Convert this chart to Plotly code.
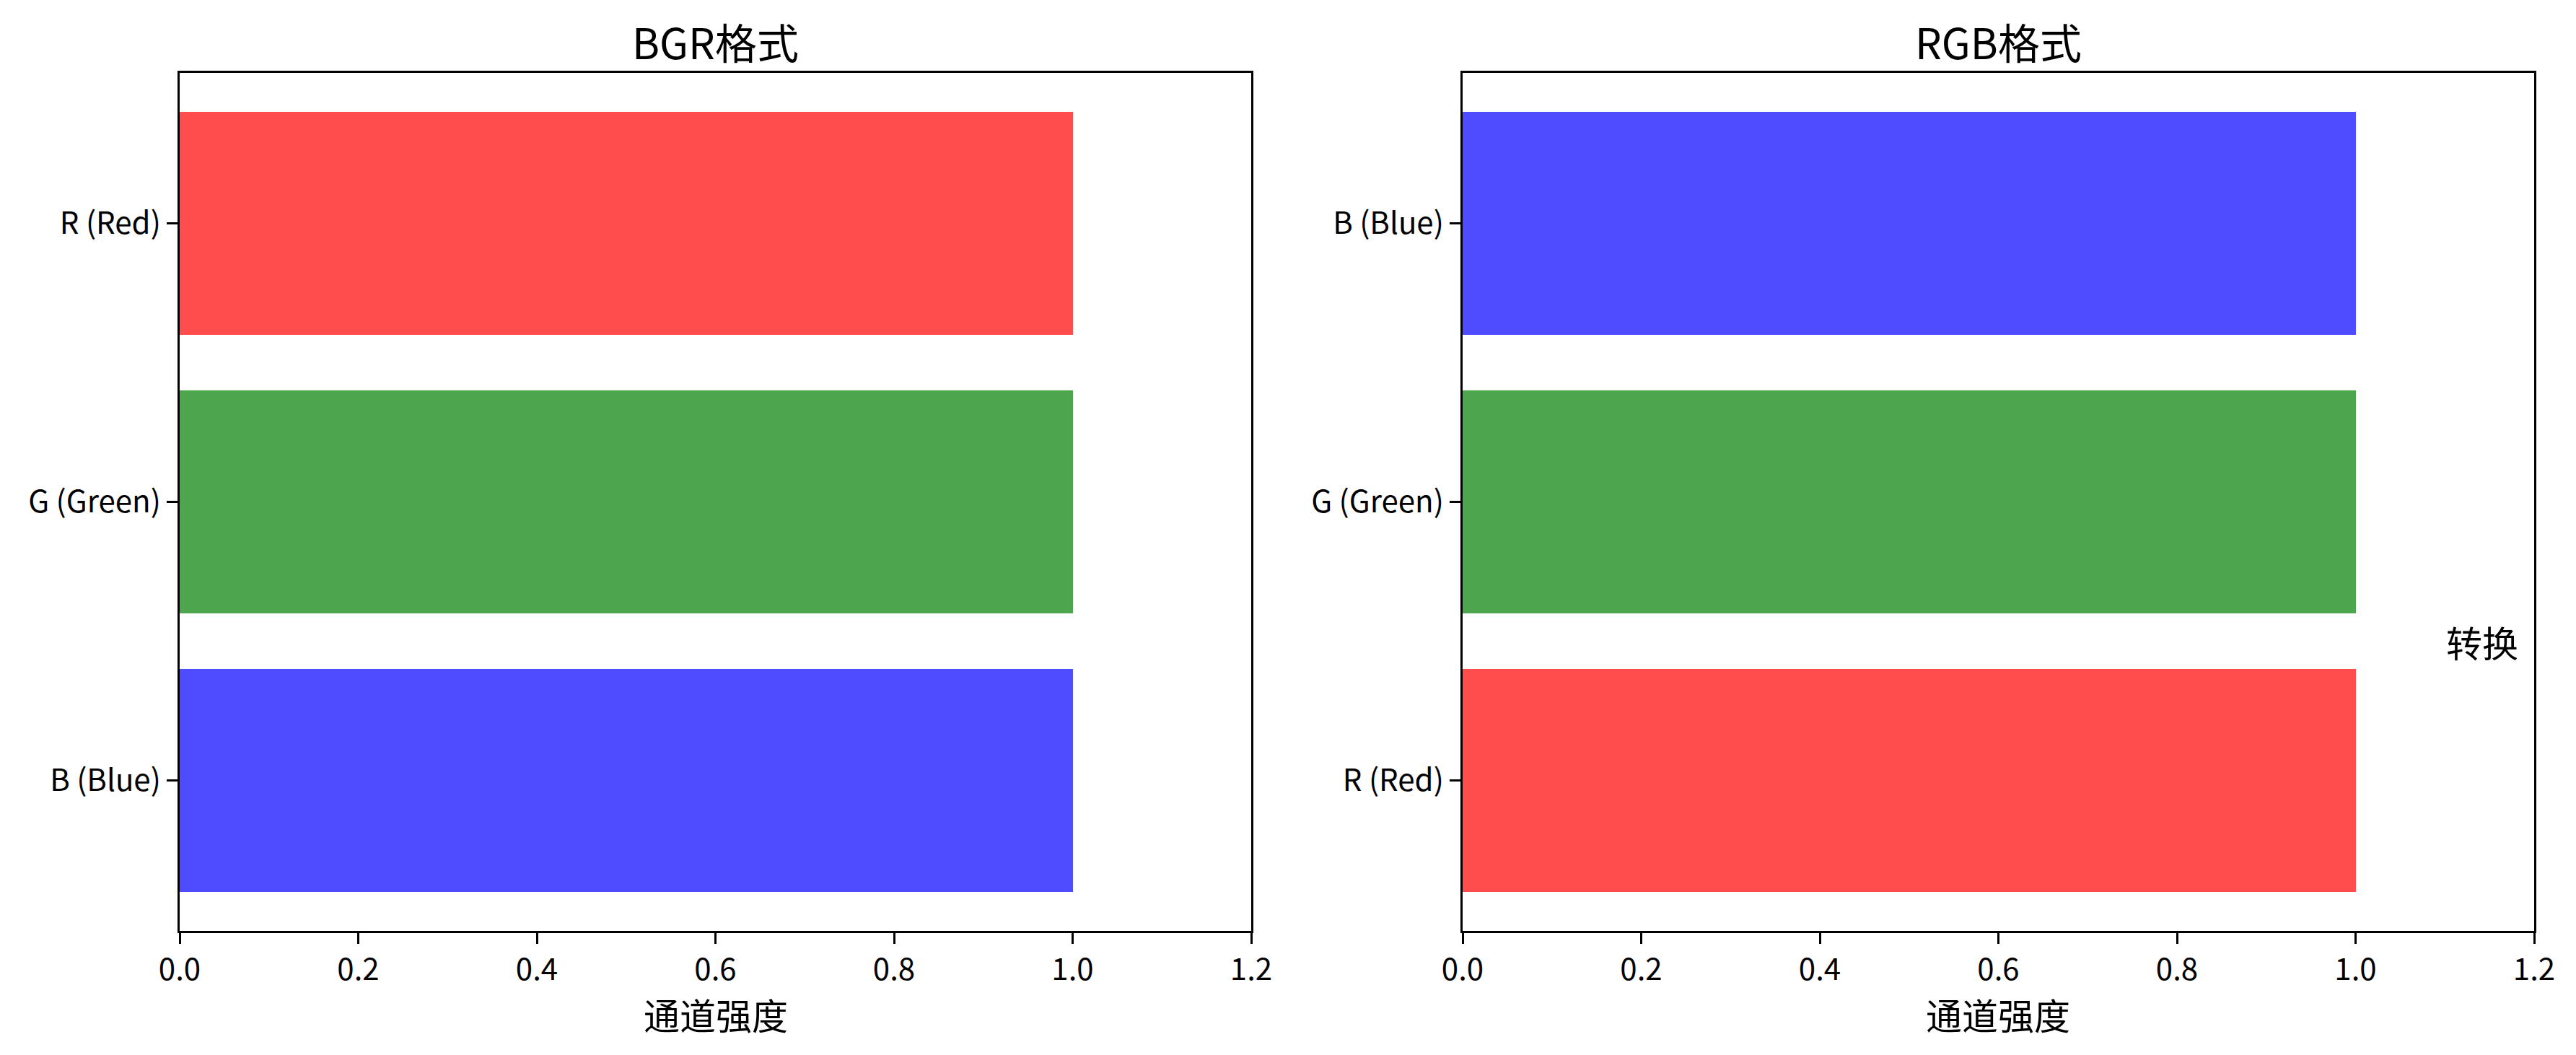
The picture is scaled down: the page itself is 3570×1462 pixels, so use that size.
import plotly.graph_objects as go

# ---- data ----
bgr_labels = ["B (Blue)", "G (Green)", "R (Red)"]
bgr_values = [1.0, 1.0, 1.0]
bgr_colors = ["#4D4DFF", "#4DA64D", "#FF4D4D"]

rgb_labels = ["R (Red)", "G (Green)", "B (Blue)"]
rgb_values = [1.0, 1.0, 1.0]
rgb_colors = ["#FF4D4D", "#4DA64D", "#4D4DFF"]

x_ticks = [0.0, 0.2, 0.4, 0.6, 0.8, 1.0, 1.2]
x_tick_text = ["0.0", "0.2", "0.4", "0.6", "0.8", "1.0", "1.2"]

titles = ["BGR格式", "RGB格式"]
x_label = "通道强度"
note_text = "转换"
note_pos = (1.1, 0.5)

W, H = 3570, 1462
OFF = 8  # default page body margin
FONT = "Noto Sans CJK SC"

def px_x(p):
    return (p - OFF) / W

def px_y(p):
    return (H - (p - OFF)) / H

fig = go.Figure()
fig.add_trace(go.Bar(x=bgr_values, y=bgr_labels, orientation="h", width=0.8,
                     marker=dict(color=bgr_colors, line=dict(width=0)),
                     xaxis="x", yaxis="y", showlegend=False))
fig.add_trace(go.Bar(x=rgb_values, y=rgb_labels, orientation="h", width=0.8,
                     marker=dict(color=rgb_colors, line=dict(width=0)),
                     xaxis="x2", yaxis="y2", showlegend=False))

left_dom = [px_x(249), px_x(1734)]
right_dom = [px_x(2027), px_x(3512)]
y_dom = [px_y(1290), px_y(101)]

axis_common = dict(showline=True, linecolor="black", linewidth=3.3, mirror=True,
                   ticks="outside", ticklen=14.6, tickwidth=3.3, tickcolor="black",
                   showgrid=False, zeroline=False, automargin=False,
                   tickfont=dict(family=FONT, size=42, color="black"))

fig.update_layout(
    template="none",
    width=W, height=H,
    margin=dict(l=0, r=0, t=0, b=0, pad=0),
    paper_bgcolor="white", plot_bgcolor="white",
    font=dict(family=FONT, color="black"),
    bargap=0,
    xaxis=dict(domain=left_dom, range=[0, 1.2], tickvals=x_ticks, ticktext=x_tick_text,
               anchor="y", **axis_common),
    yaxis=dict(domain=y_dom, range=[-0.54, 2.54], type="category",
               categoryorder="array", categoryarray=bgr_labels, anchor="x", **axis_common),
    xaxis2=dict(domain=right_dom, range=[0, 1.2], tickvals=x_ticks, ticktext=x_tick_text,
                anchor="y2", **axis_common),
    yaxis2=dict(domain=y_dom, range=[-0.54, 2.54], type="category",
                categoryorder="array", categoryarray=rgb_labels, anchor="x2", **axis_common),
)

annotations = []
for dom, t in zip([left_dom, right_dom], titles):
    cx = (dom[0] + dom[1]) / 2
    annotations.append(dict(text=t, x=cx, y=px_y(57), xref="paper", yref="paper",
                            xanchor="center", yanchor="middle", showarrow=False,
                            font=dict(family=FONT, size=58, color="black")))
    annotations.append(dict(text=x_label, x=cx, y=px_y(1405), xref="paper", yref="paper",
                            xanchor="center", yanchor="middle", showarrow=False,
                            font=dict(family=FONT, size=50, color="black")))
annotations.append(dict(text=note_text, x=note_pos[0], y=note_pos[1], xref="x2", yref="y2",
                        xanchor="left", yanchor="middle", showarrow=False,
                        font=dict(family=FONT, size=50, color="black")))
fig.update_layout(annotations=annotations)

fig.write_html("out.html", config={"displayModeBar": False, "responsive": False})
